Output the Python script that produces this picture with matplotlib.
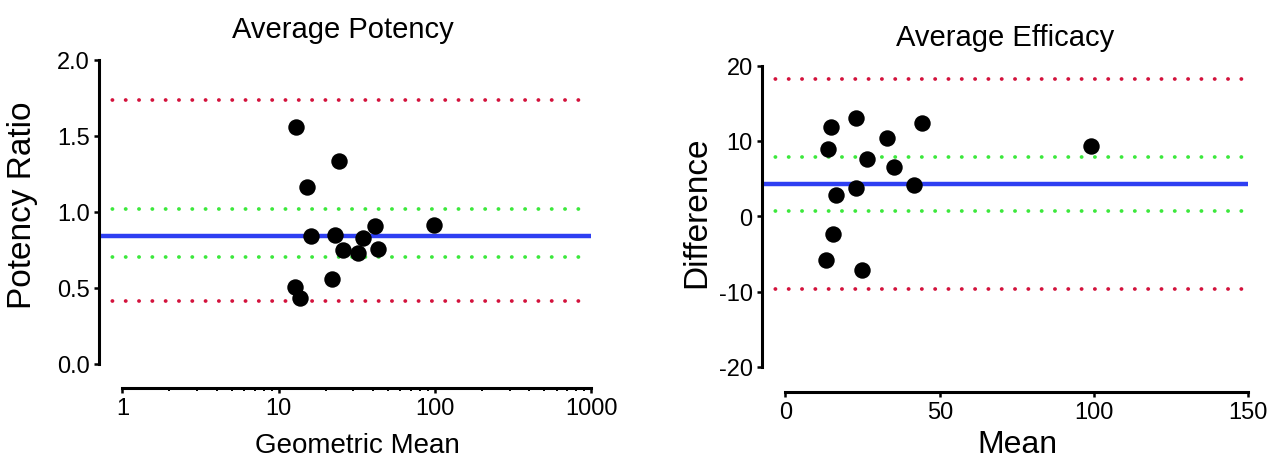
import matplotlib
matplotlib.use("Agg")
import matplotlib.pyplot as plt
from matplotlib.ticker import FixedLocator, FixedFormatter, NullFormatter

plt.rcParams['font.family'] = ['Liberation Sans', 'DejaVu Sans']

# ---- Data: Average Potency (Bland-Altman on ratio, log x) ----
potency_gmean = [12.9, 24.4, 15.2, 16.1, 22.8, 41.1, 98.4, 34.7, 25.9, 32.3, 43.3, 22.0, 12.8, 13.7]
potency_ratio = [1.557, 1.336, 1.164, 0.840, 0.849, 0.906, 0.912, 0.831, 0.748, 0.730, 0.757, 0.559, 0.509, 0.434]
potency_bias = 0.844
potency_ci = [0.702, 1.020]
potency_loa = [0.412, 1.737]

# ---- Data: Average Efficacy (Bland-Altman on difference) ----
efficacy_mean = [14.9, 23.0, 44.1, 32.9, 13.7, 26.4, 35.2, 23.0, 41.5, 16.3, 15.3, 13.3, 24.8, 99.0]
efficacy_diff = [11.8, 13.0, 12.4, 10.35, 8.93, 7.64, 6.58, 3.79, 4.15, 2.86, -2.41, -5.86, -7.19, 9.37]
efficacy_bias = 4.28
efficacy_ci = [0.65, 7.91]
efficacy_loa = [-9.67, 18.23]

pot_yticks = [0.0, 0.5, 1.0, 1.5, 2.0]
pot_yticklabels = ['0.0', '0.5', '1.0', '1.5', '2.0']
pot_xticks = [1, 10, 100, 1000]
pot_xticklabels = ['1', '10', '100', '1000']
pot_xminor = [m * d for d in (1, 10, 100) for m in range(2, 10)]
eff_yticks = [-20, -10, 0, 10, 20]
eff_yticklabels = ['-20', '-10', '0', '10', '20']
eff_xticks = [0, 50, 100, 150]
eff_xticklabels = ['0', '50', '100', '150']

BLUE = '#2e3ff2'
RED = '#d3123c'
GREEN = '#3ce83c'
DOT = (0, (0.05, 3.5))

W, H = 1273, 460
fig = plt.figure(figsize=(W / 100, H / 100), dpi=100)

ax1 = fig.add_axes([99 / W, (H - 389.3) / H, 492.3 / W, 328.6 / H])
ax2 = fig.add_axes([761.7 / W, (H - 392.7) / H, 486.6 / W, 326.0 / H])


def style(ax):
    for s in ['top', 'right']:
        ax.spines[s].set_visible(False)
    for s in ['left', 'bottom']:
        ax.spines[s].set_linewidth(2.2)
        ax.spines[s].set_color('black')
    ax.tick_params(axis='both', which='major', direction='out', length=3.5, width=1.8,
                   labelsize=17, pad=3, color='black')
    ax.tick_params(axis='both', which='minor', direction='out', length=2.2, width=1.4, color='black')


def hlines(ax, bias, ci, loa, xl):
    for v in loa:
        ax.plot(xl, [v, v], color=RED, lw=2.7, linestyle=DOT, dash_capstyle='round', zorder=2)
    for v in ci:
        ax.plot(xl, [v, v], color=GREEN, lw=2.7, linestyle=DOT, dash_capstyle='round', zorder=2)
    ax.plot(xl, [bias, bias], color=BLUE, lw=3.2, solid_capstyle='butt', zorder=2)


# ---- Left panel ----
ax1.set_xscale('log')
xl1 = (0.708, 1000)
ax1.set_xlim(*xl1)
ax1.set_ylim(-0.16, 2.0)
hlines(ax1, potency_bias, potency_ci, potency_loa, xl1)
ax1.scatter(potency_gmean, potency_ratio, s=140, color='black', zorder=3, linewidths=0)
style(ax1)
ax1.spines['bottom'].set_bounds(1, 1000)
ax1.spines['left'].set_bounds(0, 2)
ax1.xaxis.set_major_locator(FixedLocator(pot_xticks))
ax1.xaxis.set_major_formatter(FixedFormatter(pot_xticklabels))
ax1.xaxis.set_minor_locator(FixedLocator(pot_xminor))
ax1.xaxis.set_minor_formatter(NullFormatter())
ax1.yaxis.set_major_locator(FixedLocator(pot_yticks))
ax1.yaxis.set_major_formatter(FixedFormatter(pot_yticklabels))
ax1.set_xlabel('Geometric Mean', fontsize=20, va='center')
ax1.xaxis.set_label_coords(0.524, -0.172)
ax1.set_ylabel('Potency Ratio', fontsize=24, va='center')
ax1.yaxis.set_label_coords(-0.156, 0.561)
ax1.text(0.496, 1.094, 'Average Potency', transform=ax1.transAxes, fontsize=21,
         ha='center', va='center')

# ---- Right panel ----
xl2 = (-7.7, 150)
ax2.set_xlim(*xl2)
ax2.set_ylim(-23.3, 20)
hlines(ax2, efficacy_bias, efficacy_ci, efficacy_loa, xl2)
ax2.scatter(efficacy_mean, efficacy_diff, s=140, color='black', zorder=3, linewidths=0)
style(ax2)
ax2.spines['bottom'].set_bounds(0, 150)
ax2.spines['left'].set_bounds(-20, 20)
ax2.xaxis.set_major_locator(FixedLocator(eff_xticks))
ax2.xaxis.set_major_formatter(FixedFormatter(eff_xticklabels))
ax2.yaxis.set_major_locator(FixedLocator(eff_yticks))
ax2.yaxis.set_major_formatter(FixedFormatter(eff_yticklabels))
ax2.set_xlabel('Mean', fontsize=23, va='center')
ax2.xaxis.set_label_coords(0.525, -0.16)
ax2.set_ylabel('Difference', fontsize=24, va='center')
ax2.yaxis.set_label_coords(-0.134, 0.555)
ax2.text(0.5, 1.088, 'Average Efficacy', transform=ax2.transAxes, fontsize=21,
         ha='center', va='center')

fig.savefig('out.png', dpi=100)
